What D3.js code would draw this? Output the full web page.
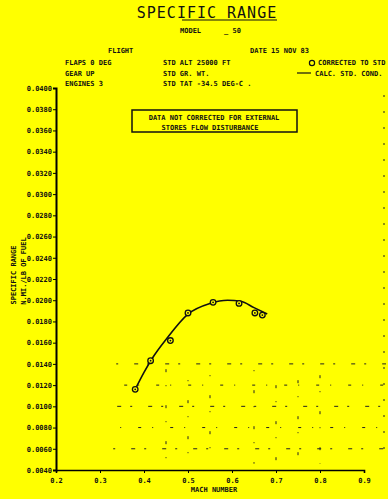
<!DOCTYPE html>
<html>
<head>
<meta charset="utf-8">
<script src="https://cdn.jsdelivr.net/npm/d3@7"></script>
<style>
  html, body { margin: 0; padding: 0; background: #ffff00; }
  svg { display: block; }
  text { font-family: "DejaVu Sans Mono", monospace; font-weight: bold; fill: #111; }
</style>
</head>
<body>
<div id="app"></div>
<script>
const container = document.querySelector('#app');

const width = 388;
const height = 499;

// test points (corrected to std)
const pointMach = [0.38, 0.415, 0.46, 0.50, 0.557, 0.616, 0.652, 0.669];
const pointSR   = [0.0116, 0.0143, 0.0162, 0.0188, 0.0198, 0.0197, 0.0188, 0.0186];

// calculated std. cond. curve
const curveMach = [0.38, 0.40, 0.42, 0.45, 0.50, 0.55, 0.59, 0.62, 0.65, 0.68];
const curveSR   = [0.0116, 0.0132, 0.0146, 0.0163, 0.0187, 0.0197, 0.0200, 0.0199, 0.0193, 0.0187];

// tick labels
const xTicks = [0.2, 0.3, 0.4, 0.5, 0.6, 0.7, 0.8, 0.9];
const yTicks = d3.range(19).map(i => +(0.004 + i * 0.002).toFixed(4));
const gridX = [0.45, 0.5, 0.55, 0.65, 0.7, 0.75, 0.8];
const gridY = [0.006, 0.008, 0.010, 0.012, 0.014];

const x = d3.scaleLinear().domain([0.2, 0.9]).range([56, 364]);
const y = d3.scaleLinear().domain([0.004, 0.040]).range([470, 88]);

const svg = d3.create("svg")
    .attr("width", width)
    .attr("height", height);

svg.append("rect").attr("width", width).attr("height", height).attr("fill", "#ffff00");

// faint scanned grid in lower part
gridY.forEach((v, i) => {
  svg.append("line")
    .attr("x1", x(0.33)).attr("x2", 386)
    .attr("y1", y(v)).attr("y2", y(v))
    .attr("stroke", "#222").attr("stroke-width", 1)
    .attr("stroke-dasharray", i % 2 ? "3,11,1,17" : "2,16,4,9")
    .attr("stroke-dashoffset", i * 7);
});
gridX.forEach((v, i) => {
  svg.append("line")
    .attr("x1", x(v)).attr("x2", x(v))
    .attr("y1", y(0.0135)).attr("y2", y(0.0046))
    .attr("stroke", "#222").attr("stroke-width", 1)
    .attr("stroke-dasharray", "3,13,1,19")
    .attr("stroke-dashoffset", i * 5);
});
svg.append("line")
  .attr("x1", 384).attr("x2", 384).attr("y1", 95).attr("y2", 460)
  .attr("stroke", "#222").attr("stroke-dasharray", "2,14");

// title
svg.append("text")
  .attr("x", 207).attr("y", 18)
  .attr("text-anchor", "middle")
  .attr("font-size", 15)
  .style("font-weight", "normal")
  .attr("letter-spacing", 1)
  .text("SPECIFIC RANGE");
svg.append("line")
  .attr("x1", 182).attr("x2", 277).attr("y1", 20).attr("y2", 20)
  .attr("stroke", "#111").attr("stroke-width", 1.2);

const small = (tx, ty, s, anchor) => svg.append("text")
  .attr("x", tx).attr("y", ty)
  .attr("font-size", 7)
  .attr("text-anchor", anchor || "start")
  .text(s);

small(180, 33, "MODEL");
small(224, 33, "_ 50");
small(108, 53, "FLIGHT");
small(250, 53, "DATE 15 NOV 83");
small(65, 65, "FLAPS 0  DEG");
small(65, 76, "GEAR UP");
small(65, 86, "ENGINES 3");
small(163, 65, "STD ALT 25000 FT");
small(163, 76, "STD GR. WT.");
small(163, 86, "STD TAT -34.5 DEG-C .");

// legend
svg.append("circle").attr("cx", 312).attr("cy", 63).attr("r", 2.6)
  .attr("fill", "none").attr("stroke", "#111").attr("stroke-width", 1.2);
small(318, 65, "CORRECTED TO STD");
svg.append("line").attr("x1", 297).attr("x2", 311).attr("y1", 73).attr("y2", 73)
  .attr("stroke", "#111").attr("stroke-width", 1.2);
small(315, 76, "CALC. STD. COND.");

// note box
svg.append("rect")
  .attr("x", 132).attr("y", 110).attr("width", 165).attr("height", 22)
  .attr("fill", "none").attr("stroke", "#111").attr("stroke-width", 1.5);
small(214, 120, "DATA NOT CORRECTED FOR EXTERNAL", "middle");
small(210, 130, "STORES FLOW DISTURBANCE", "middle");

// axes
const fmt = d3.format(".4f");
const yAxis = svg.append("g")
  .attr("transform", `translate(${x(0.2)},0)`)
  .call(d3.axisLeft(y).tickValues(yTicks).tickFormat(fmt).tickSize(3).tickPadding(1));
yAxis.select(".domain").attr("stroke-width", 2);
yAxis.selectAll("text").attr("font-size", 7).attr("font-family", "DejaVu Sans Mono, monospace");

const xAxis = svg.append("g")
  .attr("transform", `translate(0,${y(0.004)})`)
  .call(d3.axisBottom(x).tickValues(xTicks).tickFormat(d3.format(".1f")).tickSize(3).tickPadding(5));
xAxis.select(".domain").attr("stroke-width", 1.6);
xAxis.selectAll("text").attr("font-size", 7).attr("font-family", "DejaVu Sans Mono, monospace");

svg.append("text")
  .attr("x", 214).attr("y", 492)
  .attr("text-anchor", "middle").attr("font-size", 7)
  .text("MACH NUMBER");

// y label
svg.append("text")
  .attr("transform", `translate(16,275) rotate(-90)`)
  .attr("text-anchor", "middle").attr("font-size", 7)
  .text("SPECIFIC RANGE");
svg.append("text")
  .attr("transform", `translate(26,271) rotate(-90)`)
  .attr("text-anchor", "middle").attr("font-size", 7)
  .text("N.MI./LB OF FUEL");

// curve
const curveData = curveMach.map((m, i) => ({ m, v: curveSR[i] }));
const line = d3.line()
  .x(d => x(d.m))
  .y(d => y(d.v))
  .curve(d3.curveMonotoneX);

svg.append("path")
  .datum(curveData)
  .attr("fill", "none")
  .attr("stroke", "#111")
  .attr("stroke-width", 1.6)
  .attr("d", line);

// points
const pts = pointMach.map((m, i) => ({ m, v: pointSR[i] }));
svg.selectAll("circle.pt")
  .data(pts)
  .join("circle")
  .attr("class", "pt")
  .attr("cx", d => x(d.m))
  .attr("cy", d => y(d.v))
  .attr("r", 2.8)
  .attr("fill", "#ffff00")
  .attr("stroke", "#111")
  .attr("stroke-width", 1.3);
svg.selectAll("circle.dot")
  .data(pts)
  .join("circle")
  .attr("class", "dot")
  .attr("cx", d => x(d.m))
  .attr("cy", d => y(d.v))
  .attr("r", 0.9)
  .attr("fill", "#111");

container.append(svg.node());
</script>
</body>
</html>
